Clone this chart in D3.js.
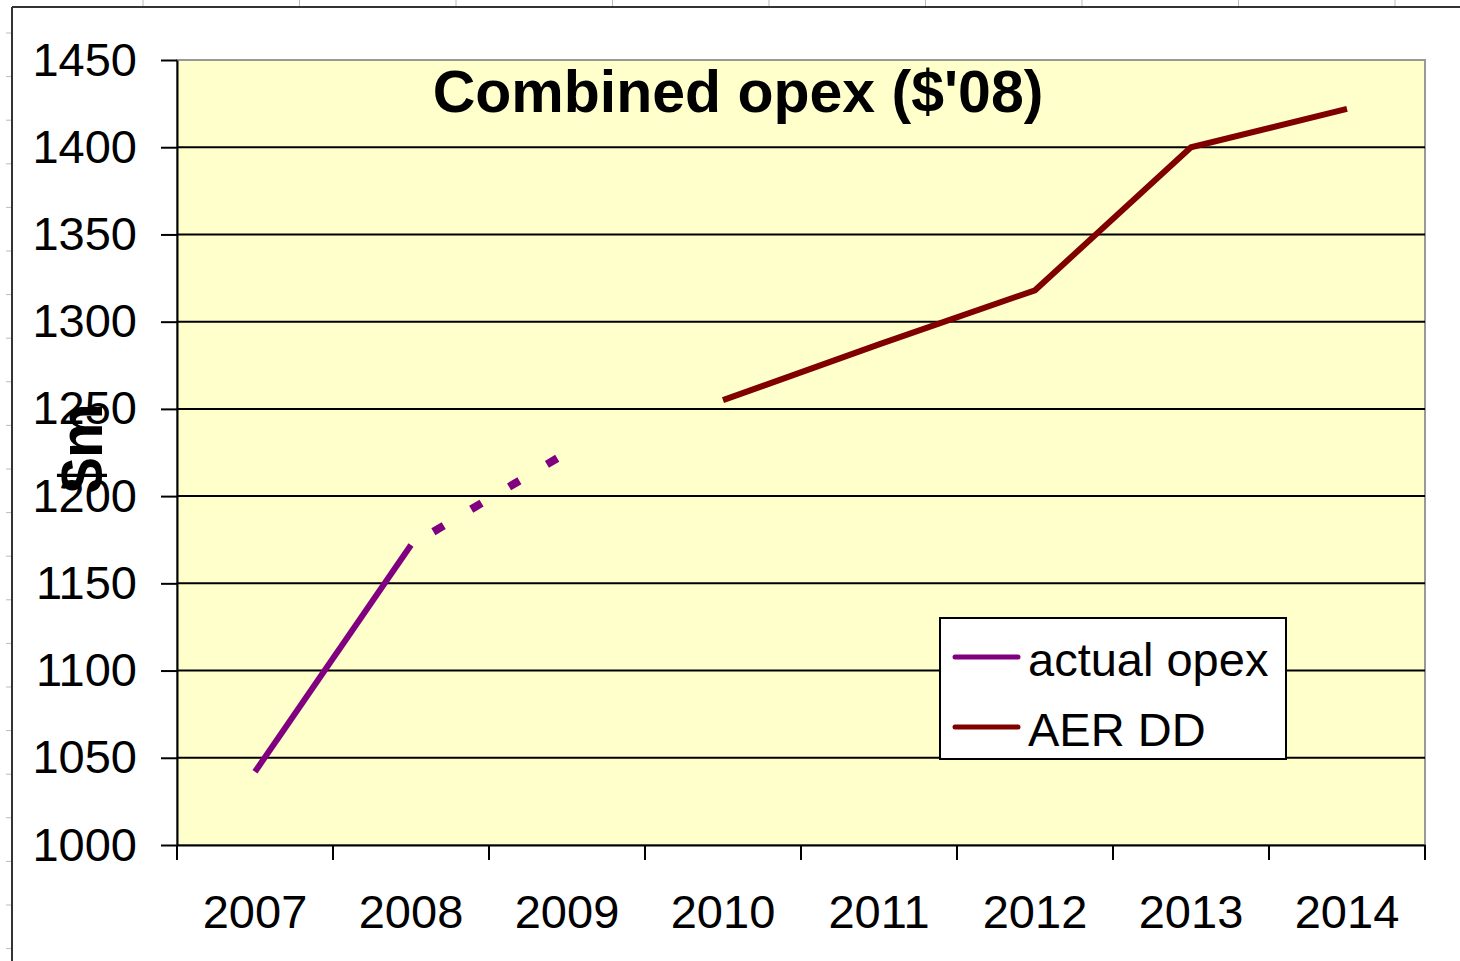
<!DOCTYPE html>
<html>
<head>
<meta charset="utf-8">
<script src="https://cdn.jsdelivr.net/npm/d3@7"></script>
<style>
  body { margin: 0; background: #fff; }
  svg { display: block; font-family: "Liberation Sans", Arial, sans-serif; }
</style>
</head>
<body>
<svg id="chart" width="1460" height="961"></svg>
<script>
// data
const years = ["2007", "2008", "2009", "2010", "2011", "2012", "2013", "2014"];
const actualOpex = [{ year: "2007", value: 1042 }, { year: "2008", value: 1172 }];
const actualOpexEst = [{ year: "2008", value: 1172 }, { year: "2009", value: 1225 }];
const aerDD = [
    { year: "2010", value: 1255 },
    { year: "2011", value: 1287 },
    { year: "2012", value: 1318 },
    { year: "2013", value: 1400 },
    { year: "2014", value: 1422 }
];
const yTicks = [1000, 1050, 1100, 1150, 1200, 1250, 1300, 1350, 1400, 1450];

const margin = { top: 60, bottom: 116, left: 177, right: 35 };
const svg = d3.select("#chart");
const width = 1460, height = 961;

// outer slide frame with its little ruler marks
svg.append("line").attr("x1", 12).attr("x2", 1460).attr("y1", 7).attr("y2", 7)
    .attr("stroke", "#333").attr("stroke-width", 2);
svg.append("line").attr("x1", 12).attr("x2", 12).attr("y1", 7).attr("y2", 961)
    .attr("stroke", "#333").attr("stroke-width", 2);
svg.selectAll(".rule_top").data(d3.range(143, 1460, 156.5)).join("line")
    .attr("class", "rule_top")
    .attr("x1", d => d).attr("x2", d => d).attr("y1", 0).attr("y2", 6)
    .attr("stroke", "#bbb");
svg.selectAll(".rule_left").data(d3.range(33, 961, 43.6)).join("line")
    .attr("class", "rule_left")
    .attr("x1", 6).attr("x2", 11).attr("y1", d => d).attr("y2", d => d)
    .attr("stroke", "#bbb");

const xScale = d3.scaleBand()
    .domain(years)
    .range([margin.left, width - margin.right]);
const yScale = d3.scaleLinear()
    .domain([1000, 1450])
    .range([height - margin.bottom, margin.top]);

const x = d => xScale(d) + xScale.bandwidth() / 2;

// plot area
svg.append("rect")
    .attr("x", margin.left).attr("y", margin.top)
    .attr("width", width - margin.left - margin.right)
    .attr("height", height - margin.top - margin.bottom)
    .attr("fill", "#ffffcc")
    .attr("stroke", "#999").attr("stroke-width", 2);

// gridlines
svg.append("g")
    .selectAll("line").data(yTicks.slice(1, -1)).join("line")
    .attr("x1", margin.left).attr("x2", width - margin.right)
    .attr("y1", d => yScale(d)).attr("y2", d => yScale(d))
    .attr("stroke", "#000").attr("stroke-width", 2);

// y axis
const yAxis = svg.append("g")
    .attr("transform", `translate(${margin.left},0)`)
    .call(d3.axisLeft(yScale).tickValues(yTicks).tickFormat(d3.format("d"))
        .tickSize(16).tickPadding(24).tickSizeOuter(0));
yAxis.select(".domain").attr("stroke", "#000").attr("stroke-width", 2);
yAxis.selectAll(".tick line").attr("stroke", "#000").attr("stroke-width", 2);
yAxis.selectAll(".tick text")
    .attr("font-size", "47px").attr("fill", "#000")
    .attr("font-family", "Liberation Sans, Arial, sans-serif");

// x axis
const xAxis = svg.append("g")
    .attr("transform", `translate(0,${height - margin.bottom})`)
    .call(d3.axisBottom(xScale).tickSize(0).tickPadding(50));
xAxis.select(".domain").attr("stroke", "#000").attr("stroke-width", 2);
xAxis.selectAll(".tick text")
    .attr("font-size", "47px").attr("fill", "#000")
    .attr("font-family", "Liberation Sans, Arial, sans-serif");
// category boundary ticks
xAxis.selectAll(".bound").data(years.concat(["end"])).join("line")
    .attr("class", "bound")
    .attr("x1", (d, i) => i < years.length ? xScale(d) : width - margin.right)
    .attr("x2", (d, i) => i < years.length ? xScale(d) : width - margin.right)
    .attr("y1", 0).attr("y2", 15)
    .attr("stroke", "#000").attr("stroke-width", 2);

// lines
const line = d3.line().x(d => x(d.year)).y(d => yScale(d.value));

svg.append("path").datum(actualOpex)
    .attr("d", line).attr("fill", "none")
    .attr("stroke", "#800080").attr("stroke-width", 6);

svg.append("path").datum(actualOpexEst)
    .attr("d", line).attr("fill", "none")
    .attr("stroke", "#800080").attr("stroke-width", 8)
    .attr("stroke-dasharray", "12,32").attr("stroke-dashoffset", -26);

svg.append("path").datum(aerDD)
    .attr("d", line).attr("fill", "none")
    .attr("stroke", "#800000").attr("stroke-width", 6);

// title
svg.append("text")
    .attr("x", 738).attr("y", 112)
    .attr("text-anchor", "middle")
    .attr("font-size", "59px").attr("font-weight", "bold")
    .text("Combined opex ($'08)");

// y label
svg.append("text")
    .attr("transform", "translate(102,448) rotate(-90)")
    .attr("text-anchor", "middle")
    .attr("font-size", "62px").attr("font-weight", "bold")
    .text("$m");

// legend
const legend = svg.append("g").attr("transform", "translate(940,618)");
legend.append("rect")
    .attr("width", 346).attr("height", 141)
    .attr("fill", "#fff").attr("stroke", "#000").attr("stroke-width", 2);
const items = [
    { name: "actual opex", color: "#800080" },
    { name: "AER DD", color: "#800000" }
];
const li = legend.selectAll(".legend_item").data(items).join("g")
    .attr("class", "legend_item")
    .attr("transform", (d, i) => `translate(0,${39 + i * 70})`);
li.append("line")
    .attr("x1", 15).attr("x2", 78)
    .attr("stroke", d => d.color).attr("stroke-width", 5).attr("stroke-linecap", "round");
li.append("text")
    .attr("x", 88).attr("y", 19)
    .attr("font-size", "47px")
    .text(d => d.name);
</script>
</body>
</html>
